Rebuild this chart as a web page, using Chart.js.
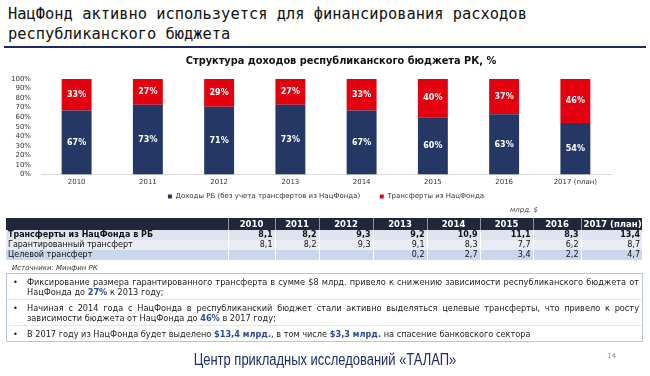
<!DOCTYPE html>
<html>
<head>
<meta charset="utf-8">
<script src="https://cdn.jsdelivr.net/npm/chart.js@4"></script>
<style>
  body { margin: 0; width: 650px; height: 376px; background: #fff; position: relative; overflow: hidden; font-family: "DejaVu Sans", sans-serif; }
  .hdr { position: absolute; left: 8px; top: 4px; font: 15.4px/20px "DejaVu Sans Mono", monospace; color: #111; white-space: pre; }
  .rule { position: absolute; left: 4px; right: 4px; top: 46px; height: 2px; background: #1c2a6e; }
  .ctitle { position: absolute; left: 0; width: 682px; top: 55px; text-align: center; font: bold 9.8px/12px "DejaVu Sans", sans-serif; color: #111; }
  #wrap { position: absolute; left: 0; top: 50px; width: 650px; height: 160px; }
  .unit { position: absolute; left: 510px; top: 206px; font: italic 7px "DejaVu Sans", sans-serif; color: #444; }
  table { position: absolute; left: 6px; top: 218px; border-collapse: collapse; font-size: 8px; color: #111; table-layout: fixed; }
  td, th { padding: 0 2px; text-align: right; border-left: 1px solid #fff; white-space: nowrap; overflow: hidden; }
  th { background: #22263a; color: #fff; font-weight: bold; text-align: center; height: 12px; font-size: 8.5px; line-height: 12px; border-left: 1px solid #8d93a6; }
  td { height: 10px; line-height: 10px; }
  td.lbl, th.lbl { text-align: left; border-left: none; }
  tr.r1 td { background: #dde3ef; font-weight: bold; }
  tr.r2 td { background: #e9ecf4; }
  tr.r3 td { background: #c9d7ec; }
  .src { position: absolute; left: 12px; top: 264px; font: italic 7px "DejaVu Sans", sans-serif; color: #333; }
  .box { position: absolute; left: 6px; top: 273px; width: 635px; height: 67px; border: 1px solid #b9c5da; }
  .box ul { margin: 0; padding: 0; list-style: none; font-size: 8.2px; line-height: 10px; color: #222; }
  .box li { position: relative; padding: 3px 3px 2px 20px; text-align: justify; border-bottom: 1px solid #e1e6ef; }
  .box li:last-child { border-bottom: none; }
  .box li::before { content: "•"; position: absolute; left: 6px; }
  .box b { color: #2c4a9c; }
  .foot { position: absolute; left: 0; width: 650px; top: 351px; text-align: center; font: 16px "Liberation Sans", sans-serif; color: #1c2a6e; transform: scaleX(0.81); transform-origin: 325px 0; }
  .pg { position: absolute; left: 607px; top: 352px; font: 7px "DejaVu Sans", sans-serif; color: #888; }
</style>
</head>
<body>
<div class="hdr">НацФонд активно используется для финансирования расходов
республиканского бюджета</div>
<div class="rule"></div>
<div id="wrap"><canvas id="c" width="650" height="160"></canvas></div>
<div class="ctitle">Структура доходов республиканского бюджета РК, %</div>
<div class="unit">млрд. $</div>
<table id="tbl"></table>
<div class="src">Источники: Минфин РК</div>
<div class="box"><ul>
  <li>Фиксирование размера гарантированного трансферта в сумме $8 млрд. привело к снижению зависимости республиканского бюджета от НацФонда до <b>27%</b> к 2013 году;</li>
  <li>Начиная с 2014 года с НацФонда в республиканский бюджет стали активно выделяться целевые трансферты, что привело к росту зависимости бюджета от НацФонда до <b>46%</b> в 2017 году;</li>
  <li>В 2017 году из НацФонда будет выделено <b>$13,4 млрд.</b>, в том числе <b>$3,3 млрд.</b> на спасение банковского сектора</li>
</ul></div>
<div class="foot">Центр прикладных исследований «ТАЛАП»</div>
<div class="pg">14</div>
<script>
const years = ['2010', '2011', '2012', '2013', '2014', '2015', '2016', '2017 (план)'];
const ownShare = [67, 73, 71, 73, 67, 60, 63, 54];
const fundShare = [33, 27, 29, 27, 33, 40, 37, 46];

const rowLabels = ['Трансферты из НацФонда в РБ', 'Гарантированный трансферт', 'Целевой трансферт'];
const totalTransfer = [8.1, 8.2, 9.3, 9.2, 10.9, 11.1, 8.3, 13.4];
const guaranteed = [8.1, 8.2, 9.3, 9.1, 8.3, 7.7, 6.2, 8.7];
const targeted = [null, null, null, 0.2, 2.7, 3.4, 2.2, 4.7];
const colWidths = [222, 47, 44, 54, 54, 53, 53, 48, 61];

// table built from the arrays
const tbl = document.getElementById('tbl');
let html = '<colgroup>' + colWidths.map(w => '<col style="width:' + w + 'px">').join('') + '</colgroup>';
html += '<tr><th class="lbl"></th>';
years.forEach(y => { html += '<th>' + y + '</th>'; });
html += '</tr>';
[totalTransfer, guaranteed, targeted].forEach((row, r) => {
  html += '<tr class="r' + (r + 1) + '"><td class="lbl">' + rowLabels[r] + '</td>';
  row.forEach(v => {
    html += '<td>' + (v == null ? '' : v.toFixed(1).replace('.', ',')) + '</td>';
  });
  html += '</tr>';
});
tbl.innerHTML = html;
tbl.style.width = colWidths.reduce((a, b) => a + b, 0) + 'px';

const NAVY = '#253764';
const RED = '#e3000f';

const barLabels = {
  id: 'barLabels',
  afterDatasetsDraw(chart) {
    const { ctx } = chart;
    ctx.save();
    ctx.font = 'bold 8px "DejaVu Sans"';
    ctx.fillStyle = '#fff';
    ctx.textAlign = 'center';
    ctx.textBaseline = 'middle';
    chart.data.datasets.forEach((ds, i) => {
      chart.getDatasetMeta(i).data.forEach((bar, j) => {
        ctx.fillText(ds.data[j] + '%', bar.x, (bar.y + bar.base) / 2);
      });
    });
    ctx.restore();
  }
};

new Chart(document.getElementById('c'), {
  type: 'bar',
  data: {
    labels: years,
    datasets: [
      { label: 'Доходы РБ (без учета трансфертов из НацФонда)', data: ownShare, backgroundColor: NAVY },
      { label: 'Трансферты из НацФонда', data: fundShare, backgroundColor: RED }
    ]
  },
  options: {
    responsive: false,
    animation: false,
    barPercentage: 0.42,
    categoryPercentage: 1,
    layout: { padding: { left: 4, right: 2, top: 29, bottom: 0 } },
    plugins: {
      tooltip: { enabled: false },
      title: { display: false },
      legend: {
        position: 'bottom',
        labels: {
          boxWidth: 4,
          boxHeight: 4,
          padding: 4,
          font: { family: 'DejaVu Sans', size: 7 },
          color: '#333',
          generateLabels: chart => {
            const items = Chart.defaults.plugins.legend.labels.generateLabels(chart);
            items[0].text += '       ';
            return items;
          }
        }
      }
    },
    scales: {
      x: {
        stacked: true,
        grid: { display: false, drawTicks: false },
        border: { display: true, color: '#d9d9d9' },
        ticks: { font: { family: 'DejaVu Sans', size: 7 }, color: '#333', padding: 3, maxRotation: 0 }
      },
      y: {
        stacked: true,
        min: 0,
        max: 100,
        grid: { display: false, drawTicks: false },
        border: { display: false },
        ticks: {
          stepSize: 10,
          autoSkip: false,
          padding: 10,
          font: { family: 'DejaVu Sans', size: 7 },
          color: '#333',
          callback: v => v + '%'
        },
        afterFit: s => { s.width = 37; }
      },
      // empty right-hand spacer so the plot ends where the slide's does
      yRight: {
        position: 'right',
        grid: { display: false },
        border: { display: false },
        ticks: { display: false },
        afterFit: s => { s.width = 37; }
      }
    }
  },
  plugins: [barLabels]
});
</script>
</body>
</html>
